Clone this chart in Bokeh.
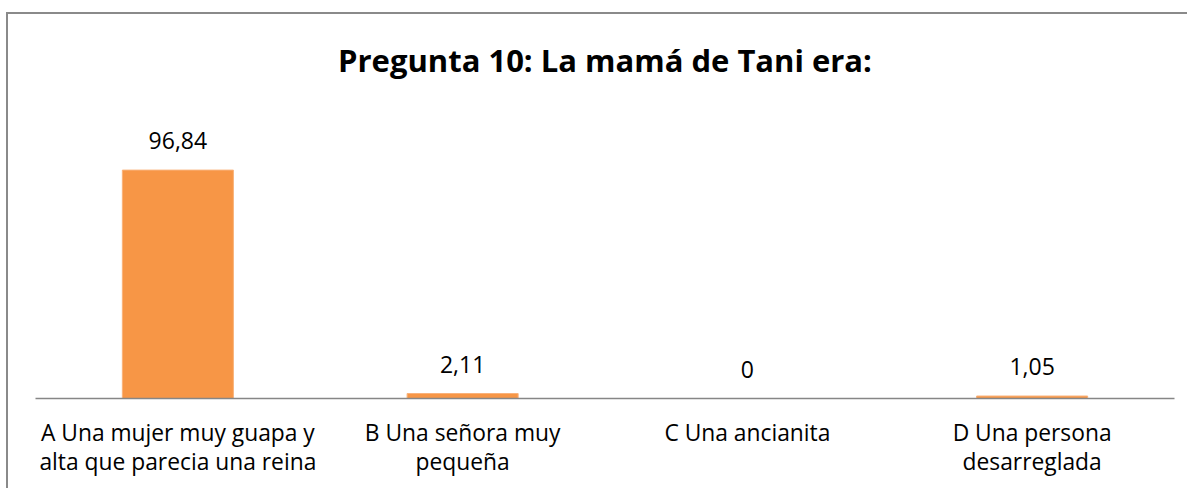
from bokeh.plotting import figure
from bokeh.models import ColumnDataSource, LabelSet, Range1d
from bokeh.core.properties import value
from bokeh.embed import file_html
from bokeh.resources import INLINE

categories = [
    "A Una mujer muy guapa y\nalta que parecia una reina",
    "B Una señora muy\npequeña",
    "C Una ancianita",
    "D Una persona\ndesarreglada",
]
values = [96.84, 2.11, 0, 1.05]
labels = ["0" if v == 0 else f"{v:.2f}".replace(".", ",") for v in values]

FONT = "Open Sans"

src = ColumnDataSource(dict(cat=categories, val=values, lab=labels))

p = figure(
    x_range=categories,
    y_range=Range1d(0, 125.5),
    width=1181,
    height=476,
    output_backend="svg",
    toolbar_location=None,
    title="Pregunta 10: La mamá de Tani era:",
    min_border_left=27,
    min_border_right=15,
    min_border_top=0,
    min_border_bottom=92,
)
p.styles = {"border-top": "2px solid #8a8a8a", "border-left": "2px solid #8a8a8a",
            "margin-top": "12px", "margin-left": "6px"}

p.title.align = "center"
p.title.text_font = FONT
p.title.text_font_size = "31px"
p.title.text_font_style = "bold"
p.title.text_color = "#000000"
p.title.standoff = 44

p.vbar(x="cat", top="val", width=0.39, source=src, fill_color="#F79646", line_color="#F9B27A", line_width=1)

p.add_layout(LabelSet(x="cat", y="val", text="lab", source=src, y_offset=21,
                      text_align="center", text_baseline="alphabetic",
                      text_font=value(FONT), text_font_size=value("23px"), text_color="#000000"))

p.yaxis.visible = False
p.xgrid.grid_line_color = None
p.ygrid.grid_line_color = None
p.outline_line_color = None
p.background_fill_color = "white"
p.border_fill_color = "white"

ax = p.xaxis[0]
ax.axis_line_color = "#868686"
ax.axis_line_width = 1.5
ax.major_tick_line_color = None
ax.minor_tick_line_color = None
ax.major_label_text_font = FONT
ax.major_label_text_font_size = "22.8px"
ax.major_label_text_color = "#000000"
ax.major_label_text_line_height = 0.95
ax.major_label_standoff = 12
ax.major_label_orientation = "horizontal"

open("out.html", "w").write(file_html(p, INLINE))
